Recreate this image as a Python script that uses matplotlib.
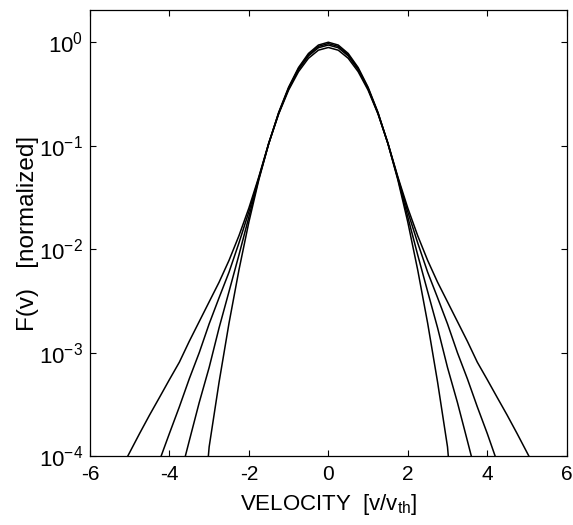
import numpy as np
import matplotlib
matplotlib.use('Agg')
import matplotlib.pyplot as plt
from matplotlib.ticker import LogLocator, NullLocator

plt.rcParams['font.family'] = ['Liberation Sans', 'DejaVu Sans']
plt.rcParams['mathtext.default'] = 'regular'
plt.rcParams['axes.unicode_minus'] = False

# velocity [v/v_th] and F(v) for the four distributions
# widest tails
v_a = [-5.05, -4.75, -4.5, -4.25, -4.0, -3.75, -3.5, -3.25, -3.0, -2.75, -2.5, -2.25, -2.0, -1.75,
       -1.5, -1.25, -1.0, -0.75, -0.5, -0.25, 0.0, 0.25, 0.5, 0.75, 1.0, 1.25, 1.5,
       1.75, 2.0, 2.25, 2.5, 2.75, 3.0, 3.25, 3.5, 3.75, 4.0, 4.25, 4.5, 4.75, 5.05]
f_a = [1.0e-4, 1.66e-4, 2.5e-4, 3.7e-4, 5.5e-4, 8.1e-4, 1.29e-3, 2.0e-3, 3.1e-3, 4.8e-3,
       7.8e-3, 1.35e-2, 2.5e-2, 5.0e-2,
       0.106, 0.203, 0.345, 0.520, 0.700, 0.838, 0.89, 0.838, 0.700, 0.520, 0.345, 0.203, 0.106,
       5.0e-2, 2.5e-2, 1.35e-2, 7.8e-3, 4.8e-3, 3.1e-3, 2.0e-3, 1.29e-3, 8.1e-4, 5.5e-4,
       3.7e-4, 2.5e-4, 1.66e-4, 1.0e-4]

v_b = [-4.21, -4.0, -3.75, -3.5, -3.25, -3.0, -2.75, -2.5, -2.25, -2.0, -1.75,
       -1.5, -1.25, -1.0, -0.75, -0.5, -0.25, 0.0, 0.25, 0.5, 0.75, 1.0, 1.25, 1.5,
       1.75, 2.0, 2.25, 2.5, 2.75, 3.0, 3.25, 3.5, 3.75, 4.0, 4.2]
f_b = [1.0e-4, 1.66e-4, 3.0e-4, 5.6e-4, 1.0e-3, 1.9e-3, 3.4e-3, 6.0e-3, 1.15e-2, 2.3e-2, 4.9e-2,
       0.105, 0.205, 0.355, 0.543, 0.737, 0.885, 0.94, 0.885, 0.737, 0.543, 0.355, 0.205, 0.105,
       4.9e-2, 2.3e-2, 1.15e-2, 6.0e-3, 3.4e-3, 1.9e-3, 1.0e-3, 5.6e-4, 3.0e-4, 1.66e-4, 1.0e-4]

v_c = [-3.6, -3.5, -3.25, -3.0, -2.75, -2.5, -2.25, -2.0, -1.75,
       -1.5, -1.25, -1.0, -0.75, -0.5, -0.25, 0.0, 0.25, 0.5, 0.75, 1.0, 1.25, 1.5,
       1.75, 2.0, 2.25, 2.5, 2.75, 3.0, 3.25, 3.5, 3.6]
f_c = [1.0e-4, 1.41e-4, 3.3e-4, 7.2e-4, 1.74e-3, 3.9e-3, 8.8e-3, 2.05e-2, 4.8e-2,
       0.105, 0.207, 0.361, 0.556, 0.758, 0.912, 0.97, 0.912, 0.758, 0.556, 0.361, 0.207, 0.105,
       4.8e-2, 2.05e-2, 8.8e-3, 3.9e-3, 1.74e-3, 7.2e-4, 3.3e-4, 1.41e-4, 1.0e-4]

# narrowest (Maxwellian-like)
v_d = [-3.02, -3.0, -2.75, -2.5, -2.25, -2.0, -1.75,
       -1.5, -1.25, -1.0, -0.75, -0.5, -0.25, 0.0, 0.25, 0.5, 0.75, 1.0, 1.25, 1.5,
       1.75, 2.0, 2.25, 2.5, 2.75, 3.0, 3.02]
f_d = [1.0e-4, 1.23e-4, 5.2e-4, 1.93e-3, 6.3e-3, 1.83e-2, 4.68e-2,
       0.105, 0.210, 0.368, 0.570, 0.779, 0.939, 1.0, 0.939, 0.779, 0.570, 0.368, 0.210, 0.105,
       4.68e-2, 1.83e-2, 6.3e-3, 1.93e-3, 5.2e-4, 1.23e-4, 1.0e-4]

fig = plt.figure(figsize=(5.73, 5.25), dpi=100)
ax = fig.add_axes([0.157, 0.131, 0.832, 0.850])

for v, f in [(v_a, f_a), (v_b, f_b), (v_c, f_c), (v_d, f_d)]:
    ax.plot(v, f, color='black', linewidth=1.1)

ax.set_yscale('log')
ax.set_xlim(-6, 6)
ax.set_ylim(1e-4, 2.05)
ax.set_xticks([-6, -4, -2, 0, 2, 4, 6])
ax.yaxis.set_major_locator(LogLocator(base=10, numticks=10))
ax.yaxis.set_minor_locator(NullLocator())
ax.tick_params(direction='in', length=4, width=0.8, top=True, right=True,
               labelsize=15, pad=6)
ax.tick_params(axis='y', labelsize=16, pad=5)
for s in ax.spines.values():
    s.set_linewidth(0.9)

ax.set_xlabel('VELOCITY  [v/v$_{th}$]', fontsize=16, labelpad=6)
ax.set_ylabel('F(v)   [normalized]', fontsize=17.5, labelpad=0)

fig.savefig('out.png', dpi=100)
